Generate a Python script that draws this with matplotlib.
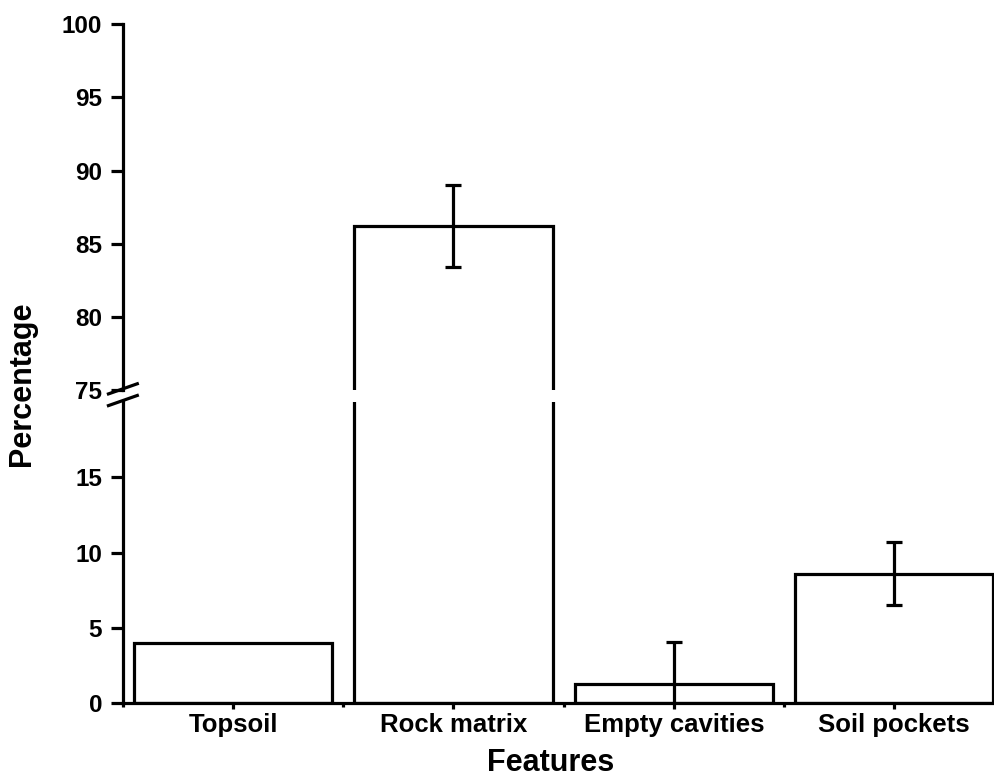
import numpy as np
import matplotlib.pyplot as plt

features = ['Topsoil', 'Rock matrix', 'Empty cavities', 'Soil pockets']
percent = [4.0, 86.2, 1.27, 8.6]
errors = [0.0, 2.8, 2.8, 2.1]

plt.rcParams['font.family'] = ['Liberation Sans', 'DejaVu Sans']
plt.rcParams['font.weight'] = 'bold'

fig = plt.figure(figsize=(9.95, 7.8), dpi=100)
ax_top = fig.add_axes([0.1236, 0.5, 0.8764, 0.469])
ax_bot = fig.add_axes([0.1236, 0.0987, 0.8764, 0.3859])

x = np.arange(len(features))
lw = 2.3

for ax in (ax_top, ax_bot):
    ax.bar(x, percent, width=0.9, color='white', edgecolor='black', linewidth=lw)
    for i in range(len(x)):
        if errors[i] > 0:
            ax.errorbar(x[i], percent[i], yerr=errors[i], color='black',
                        elinewidth=lw, capsize=6, capthick=lw)
    ax.set_xlim(-0.5, 3.458)
    ax.spines['right'].set_visible(False)
    ax.spines['left'].set_linewidth(lw)
    ax.tick_params(axis='y', direction='out', length=9, width=lw, labelsize=17.5, pad=6)

ax_top.set_ylim(75, 100)
ax_top.set_yticks([75, 80, 85, 90, 95, 100])
ax_top.spines['top'].set_visible(False)
ax_top.spines['bottom'].set_visible(False)
ax_top.set_xticks([])

ax_bot.set_ylim(0, 20)
ax_bot.set_yticks([0, 5, 10, 15])
ax_bot.spines['top'].set_visible(False)
ax_bot.spines['bottom'].set_linewidth(lw)
ax_bot.set_xticks(x)
ax_bot.set_xticklabels(features, fontsize=18.5)
ax_bot.set_xticks([-0.5, 0.5, 1.5, 2.5], minor=True)
ax_bot.tick_params(axis='x', which='major', length=4, width=lw, pad=3)
ax_bot.tick_params(axis='x', which='minor', length=3, width=lw)

# break marks on the left spine
for yc in (0.5015, 0.4865):
    fig.add_artist(plt.Line2D([0.109, 0.138], [yc - 0.0065, yc + 0.0065],
                              color='black', linewidth=lw))

fig.text(0.022, 0.508, 'Percentage', rotation=90, ha='center', va='center',
         fontsize=22, fontweight='bold')
fig.text(0.553, 0.022, 'Features', ha='center', va='center',
         fontsize=22, fontweight='bold')

fig.savefig('out.png', dpi=100)
